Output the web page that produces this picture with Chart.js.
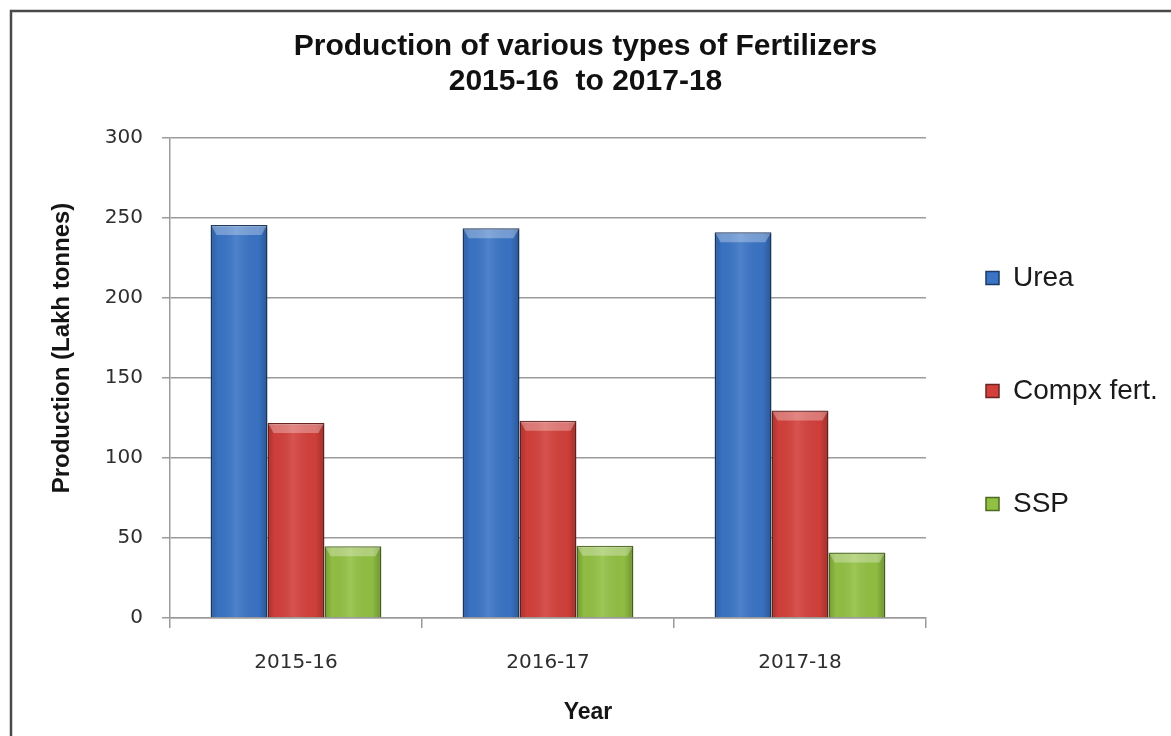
<!DOCTYPE html>
<html>
<head>
<meta charset="utf-8">
<title>Production of various types of Fertilizers</title>
<script src="https://cdn.jsdelivr.net/npm/chart.js@4.4.1/dist/chart.umd.min.js"></script>
<style>
  html, body { margin: 0; padding: 0; background: #ffffff; }
  #wrap { width: 1171px; height: 736px; position: relative; overflow: hidden; }
  canvas { display: block; }
</style>
</head>
<body>
<div id="wrap"><canvas id="chart" width="1171" height="736"></canvas></div>
<script>
// Production in lakh tonnes, by year
const years = ['2015-16', '2016-17', '2017-18'];
const urea = [245.8, 243.7, 241.2];
const complexFert = [121.9, 123.3, 129.8];
const ssp = [44.8, 45.2, 41.0];
const seriesNames = ['Urea', 'Compx fert.', 'SSP'];
const titleLines = ['Production of various types of Fertilizers', '2015-16  to 2017-18'];
const yAxisTitle = 'Production (Lakh tonnes)';
const xAxisTitle = 'Year';
const yMin = 0, yMax = 300, yStep = 50;

const SANS = "'Liberation Sans', Arial, sans-serif";
const TICK_FONT = "'DejaVu Sans', Verdana, sans-serif";
const GRID = '#9b9b9b';

// Outer frame around the whole chart
const framePlugin = {
  id: 'frame',
  beforeDraw(chart) {
    const ctx = chart.ctx;
    ctx.save();
    ctx.fillStyle = '#ffffff';
    ctx.fillRect(0, 0, chart.width, chart.height);
    ctx.strokeStyle = '#4a4a4a';
    ctx.lineWidth = 2.5;
    ctx.strokeRect(11, 11, chart.width + 20, chart.height + 20);
    ctx.restore();
  }
};

// Bevelled look on each bar: side shading and a light top facet
const bevelPlugin = {
  id: 'bevel',
  afterDatasetsDraw(chart) {
    const ctx = chart.ctx;
    ctx.save();
    chart.data.datasets.forEach((ds, di) => {
      const meta = chart.getDatasetMeta(di);
      if (meta.hidden) return;
      meta.data.forEach(bar => {
        const p = bar.getProps(['x', 'y', 'base', 'width'], true);
        const l = p.x - p.width / 2 + 1, r = p.x + p.width / 2 - 1;
        const t = Math.min(p.y, p.base) + 1, b = Math.max(p.y, p.base);
        const g = ctx.createLinearGradient(l, 0, r, 0);
        g.addColorStop(0, 'rgba(0,0,0,0.18)');
        g.addColorStop(0.12, 'rgba(0,0,0,0.02)');
        g.addColorStop(0.45, 'rgba(255,255,255,0.10)');
        g.addColorStop(0.85, 'rgba(0,0,0,0.02)');
        g.addColorStop(1, 'rgba(0,0,0,0.22)');
        ctx.fillStyle = g;
        ctx.fillRect(l, t, r - l, b - t);
        const bh = Math.min(9, (b - t) / 3);
        ctx.beginPath();
        ctx.moveTo(l, t);
        ctx.lineTo(r, t);
        ctx.lineTo(r - 5, t + bh);
        ctx.lineTo(l + 5, t + bh);
        ctx.closePath();
        ctx.fillStyle = 'rgba(255,255,255,0.3)';
        ctx.fill();
      });
    });
    ctx.restore();
  }
};

// Axis titles, placed as in the original layout
const axisTitlePlugin = {
  id: 'axisTitles',
  afterDraw(chart) {
    const ctx = chart.ctx;
    ctx.save();
    ctx.fillStyle = '#151515';
    ctx.font = "bold 24px " + SANS;
    ctx.textAlign = 'center';
    ctx.textBaseline = 'middle';
    ctx.translate(62, 348);
    ctx.rotate(-Math.PI / 2);
    ctx.fillText(yAxisTitle, 0, 0);
    ctx.restore();
    ctx.save();
    ctx.fillStyle = '#151515';
    ctx.font = "bold 23px " + SANS;
    ctx.textAlign = 'center';
    ctx.textBaseline = 'middle';
    ctx.fillText(xAxisTitle, 588, 713);
    ctx.restore();
  }
};

// Widen the legend block to the left and lower it beside the plot
const legendPlacePlugin = {
  id: 'legendPlace',
  afterLayout(chart) {
    const lg = chart.legend;
    if (!lg) return;
    const dx = -25, dy = 23;
    lg.left += dx;
    lg.width = lg.right - lg.left;
    lg.top += dy; lg.bottom += dy;
  }
};

const blue = '#3a74c5', blueEdge = '#1c3a63';
const red = '#d3403b', redEdge = '#6a2422';
const green = '#92c043', greenEdge = '#4d6a1f';

new Chart(document.getElementById('chart'), {
  type: 'bar',
  data: {
    labels: years,
    datasets: [
      { label: seriesNames[0], data: urea, backgroundColor: blue, borderColor: blueEdge, borderWidth: 1.5 },
      { label: seriesNames[1], data: complexFert, backgroundColor: red, borderColor: redEdge, borderWidth: 1.5 },
      { label: seriesNames[2], data: ssp, backgroundColor: green, borderColor: greenEdge, borderWidth: 1.5 }
    ]
  },
  options: {
    responsive: false,
    animation: false,
    layout: { padding: { left: 0, right: 0, top: 0, bottom: 0 } },
    datasets: { bar: { categoryPercentage: 0.678, barPercentage: 1.0 } },
    plugins: {
      title: {
        display: true,
        text: titleLines,
        color: '#111111',
        font: { family: SANS, size: 30, weight: 'bold', lineHeight: 1.17 },
        padding: { top: 29, bottom: 39 }
      },
      legend: {
        display: true,
        position: 'right',
        maxWidth: 245,
        labels: {
          color: '#1a1a1a',
          font: { family: SANS, size: 28 },
          boxWidth: 13,
          boxHeight: 13,
          padding: 85
        }
      },
      tooltip: { enabled: false }
    },
    scales: {
      x: {
        afterFit(scale) { scale.height = 118; },
        grid: { display: true, drawOnChartArea: false, drawTicks: true, tickLength: 10, color: GRID, lineWidth: 1.5, offset: true },
        border: { display: true, color: GRID, width: 1.5 },
        ticks: { color: '#2e2e2e', font: { family: TICK_FONT, size: 20 }, padding: 23 },
        title: { display: false }
      },
      y: {
        min: yMin,
        max: yMax,
        afterFit(scale) { scale.width = 170; },
        grid: { color: GRID, lineWidth: 1.5, tickLength: 8 },
        border: { display: true, color: GRID, width: 1.5 },
        ticks: { stepSize: yStep, color: '#2e2e2e', font: { family: TICK_FONT, size: 20 }, padding: 19 },
        title: { display: false }
      }
    }
  },
  plugins: [framePlugin, bevelPlugin, axisTitlePlugin, legendPlacePlugin]
});
</script>
</body>
</html>
